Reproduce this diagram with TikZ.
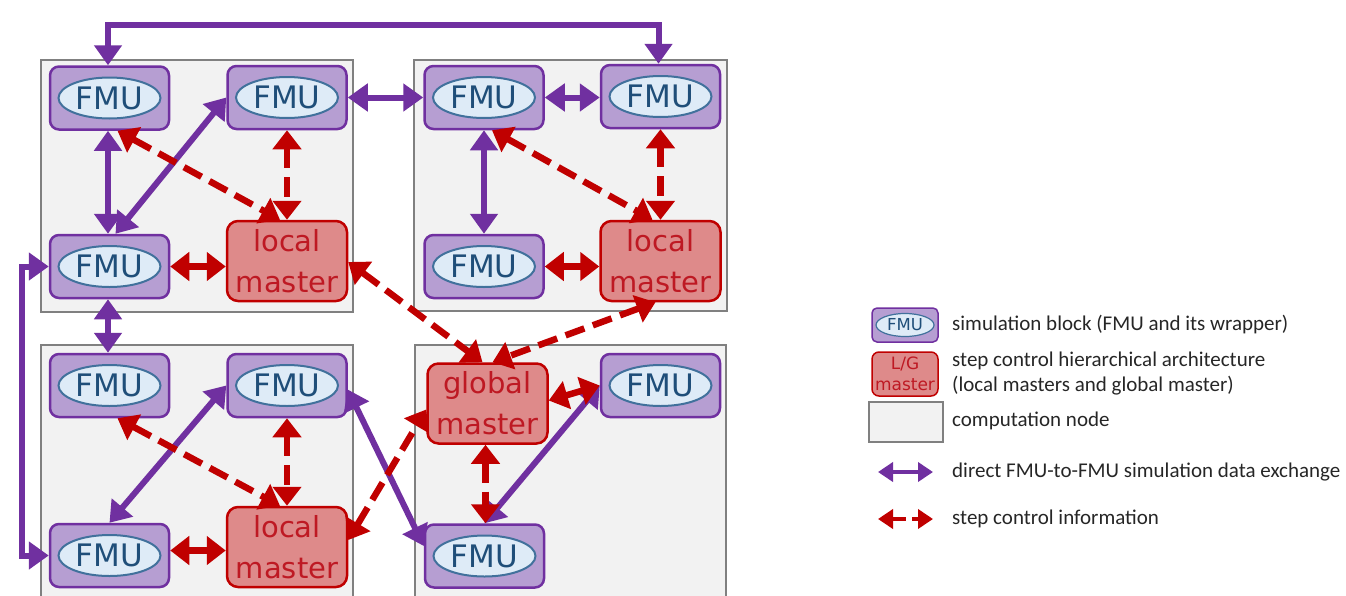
\documentclass[tikz,border=0pt]{standalone}
\usepackage{fontspec}
\setmainfont{Carlito}
\newfontfamily\dvs{DejaVu Sans}
\usetikzlibrary{arrows.meta,calc,shapes.geometric}
\definecolor{fmupurple}{HTML}{7030A0}
\definecolor{fmufill}{RGB}{182,158,210}
\definecolor{mastfill}{RGB}{222,138,138}
\definecolor{mastline}{HTML}{C00000}
\definecolor{masttext}{RGB}{190,25,35}
\definecolor{ellfill}{RGB}{222,235,247}
\definecolor{elldraw}{RGB}{65,113,156}
\definecolor{elltext}{RGB}{31,78,121}
\definecolor{boxfill}{HTML}{F2F2F2}
\definecolor{boxdraw}{HTML}{808080}
\definecolor{legtext}{HTML}{262626}
\tikzset{
  cnode/.style={draw=boxdraw, fill=boxfill, line width=2.2pt},
  fmubox/.style={draw=fmupurple, fill=fmufill, line width=2.5pt, rounded corners=9pt,
    minimum width=119pt, minimum height=63pt, inner sep=0pt},
  fmuell/.style={ellipse, draw=elldraw, fill=ellfill, line width=2pt,
    minimum width=102pt, minimum height=41pt, inner sep=0pt, text=elltext,
    font=\dvs\fontsize{31}{31}\selectfont},
  master/.style={draw=mastline, fill=mastfill, line width=2.5pt, rounded corners=11pt,
    minimum width=120pt, minimum height=80pt, inner sep=0pt, align=center, text=masttext,
    font=\dvs\fontsize{29}{41}\selectfont},
  parrow/.style={draw=fmupurple, line width=6pt,
    {Triangle[width=27pt,length=20pt]}-{Triangle[width=27pt,length=20pt]}},
  rarrow/.style={draw=mastline, line width=6.5pt, dash pattern=on 20pt off 9pt,
    {Triangle[width=28pt,length=19pt]}-{Triangle[width=28pt,length=19pt]}},
  lgfmubox/.style={draw=fmupurple, fill=fmufill, line width=1.5pt, rounded corners=5pt,
    minimum width=66pt, minimum height=34pt, inner sep=0pt},
  lgell/.style={ellipse, draw=elldraw, fill=ellfill, line width=1.2pt,
    minimum width=58pt, minimum height=23pt, inner sep=0pt, text=elltext,
    font=\dvs\fontsize{16.5}{16.5}\selectfont},
  lgmaster/.style={draw=mastline, fill=mastfill, line width=1.5pt, rounded corners=7pt,
    minimum width=66pt, minimum height=44pt, inner sep=0pt, align=center, text=masttext,
    font=\dvs\fontsize{17}{21}\selectfont},
  lgtext/.style={anchor=west, text=legtext, inner sep=0pt, font=\fontsize{21}{25}\selectfont, align=left},
  lgparrow/.style={draw=fmupurple, line width=4.5pt,
    {Triangle[width=19pt,length=15pt]}-{Triangle[width=19pt,length=15pt]}},
  lgrarrow/.style={draw=mastline, line width=4.5pt, dash pattern=on 14pt off 6pt,
    {Triangle[width=19pt,length=15pt]}-{Triangle[width=19pt,length=15pt]}},
}
\begin{document}
\begin{tikzpicture}[x=1pt,y=-1pt]
\useasboundingbox (0,0) rectangle (1346,595);
\clip (0,0) rectangle (1346,595);
% computation nodes
\draw[cnode] (41,60) rectangle (353,312);
\draw[cnode] (414,60) rectangle (727,311);
\draw[cnode] (41,345) rectangle (353,610);
\draw[cnode] (415,345) rectangle (726,610);
% FMU blocks
\foreach \n/\x/\y in {tl1/109.5/98, tl2/287/97.5, tl3/109.5/266.5,
                      tr1/484/97.5, tr2/660.5/96.5, tr3/484/266.5,
                      bl1/109.5/385.5, bl2/287/385.5, bl3/109.5/555.5,
                      br1/660.5/385.5, br2/484.5/556}{
  \node[fmubox] (\n) at (\x,\y) {};
  \node[fmuell] (\n e) at (\x,\y) {FMU};
}
% masters
\node[master] (tlm) at (287,261) {local\\master};
\node[master] (trm) at (660.5,261) {local\\master};
\node[master] (blm) at (287,547) {local\\master};
\node[master] (gm) at (487.5,403.5) {global\\master};
% helper coordinates
\coordinate (top) at (0,25);
\coordinate (left) at (22,0);
% purple connectors
\draw[parrow] ([xshift=-1.5pt]tl1.north) -- ([xshift=-1.5pt]tl1.north |- top) -| ([xshift=-2pt]tr2.north);
\draw[parrow] (tl2.east) -- (tl2.east -| tr1.west);
\draw[parrow] (tr1.east) -- (tr1.east -| tr2.west);
\draw[parrow] ([xshift=-1.5pt]tl1.south) -- ([xshift=-1.5pt]tl3.north);
\draw[parrow] ([xshift=6pt]tl3.north) -- (tl2.west);
\draw[parrow] (tr1.south) -- (tr3.north);
\draw[parrow] ([xshift=-1.5pt]tl3.south) -- ([xshift=-1.5pt]bl1.north);
\draw[parrow] (tl3.west) -- (left |- tl3.west) |- (bl3.west);
\draw[parrow] (bl2.west) -- (bl3.north);
\draw[parrow] ([yshift=-4pt]bl2.east) -- ([yshift=10pt]br2.west);
\draw[parrow] (br1.west) -- (br2.north);
% red connectors
\draw[rarrow] ([xshift=8pt]tl1.south) -- ([xshift=-7pt]tlm.north);
\draw[rarrow] (tl2.south) -- (tlm.north);
\draw[rarrow] (tl3.east) -- (tl3.east -| tlm.west);
\draw[rarrow] ([xshift=8pt]tr1.south) -- ([xshift=-8pt]trm.north);
\draw[rarrow] (tr2.south) -- (trm.north);
\draw[rarrow] (tr3.east) -- (tr3.east -| trm.west);
\draw[rarrow] ([yshift=-1pt]tlm.east) -- ([xshift=-5pt]gm.north);
\draw[rarrow] ([xshift=-5pt]trm.south) -- ([xshift=5pt]gm.north);
\draw[rarrow] ([yshift=7pt]blm.east) -- ([yshift=-6pt]gm.west);
\draw[rarrow] ([xshift=8pt]bl1.south) -- ([xshift=-7pt]blm.north);
\draw[rarrow] (bl2.south) -- (blm.north);
\draw[rarrow] ([yshift=5pt]bl3.east) -- ([yshift=5pt]bl3.east -| blm.west);
\draw[rarrow] ([yshift=3pt]gm.east) -- (br1.west);
\draw[rarrow] ([xshift=-2pt]gm.south) -- ([xshift=-2pt]gm.south |- br2.north);
% legend
\node[lgfmubox] (lf) at (905,325) {};
\node[lgell] (lfe) at (905,325) {FMU};
\node[lgmaster] (lm) at (905,374) {L/G\\master};
\node[cnode, minimum width=74pt, minimum height=40pt, inner sep=0pt] (lb) at (906,422) {};
\coordinate (pa1) at (878,472);
\coordinate (pa2) at (933,472);
\coordinate (ra1) at (878,519);
\coordinate (ra2) at (933,519);
\draw[lgparrow] (pa1) -- (pa2);
\draw[lgrarrow] (ra1) -- (ra2);
\node[lgtext] (t1) at (952,325) {simulation block (FMU and its wrapper)};
\node[lgtext] (t2) at (952,374) {step control hierarchical architecture\\(local masters and global master)};
\node[lgtext] (t3) at (952,421) {computation node};
\node[lgtext] (t4) at (952,472) {direct FMU-to-FMU simulation data exchange};
\node[lgtext] (t5) at (952,519) {step control information};
\end{tikzpicture}
\end{document}
